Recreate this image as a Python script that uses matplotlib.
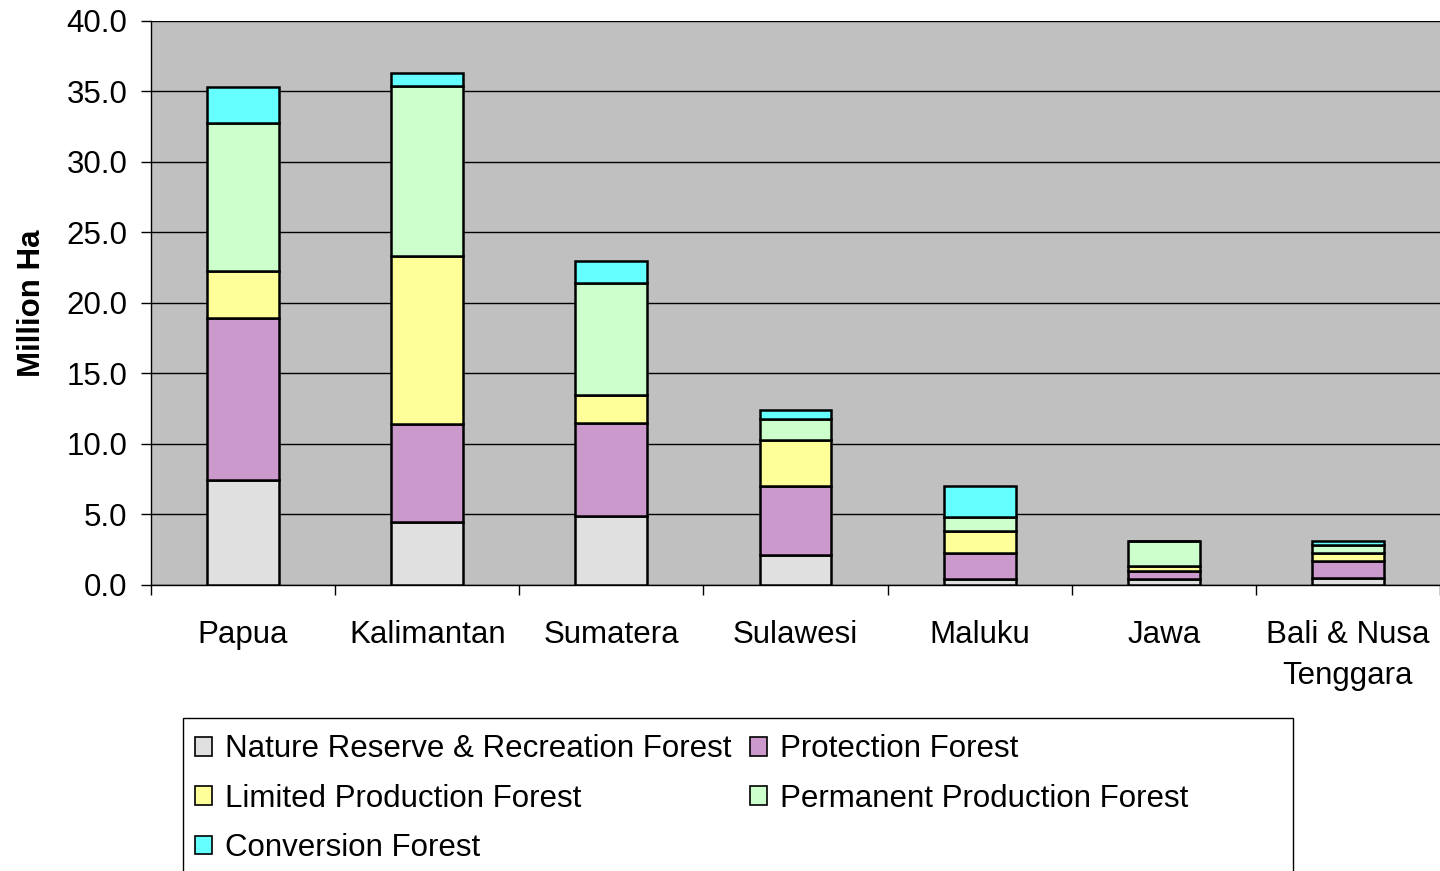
import numpy as np
import matplotlib.pyplot as plt
from matplotlib.patches import Patch, Rectangle
from matplotlib.ticker import FormatStrFormatter

plt.rcParams['font.family'] = ['Liberation Sans', 'DejaVu Sans']

regions = ['Papua', 'Kalimantan', 'Sumatera', 'Sulawesi', 'Maluku', 'Jawa',
           'Bali & Nusa\nTenggara']
series = ['Nature Reserve & Recreation Forest', 'Protection Forest',
          'Limited Production Forest', 'Permanent Production Forest',
          'Conversion Forest']

# million ha
nature = [7.45, 4.5, 4.9, 2.1, 0.4, 0.43, 0.52]
protection = [11.5, 6.9, 6.6, 4.9, 1.87, 0.56, 1.16]
limited = [3.3, 11.9, 2.0, 3.3, 1.56, 0.38, 0.57]
permanent = [10.5, 12.1, 7.9, 1.5, 1.02, 1.77, 0.59]
conversion = [2.6, 0.9, 1.6, 0.6, 2.19, 0.0, 0.28]

colors = ['#E0E0E0', '#CC99CC', '#FFFF99', '#CCFFCC', '#66FFFF']

fig = plt.figure(figsize=(14.4, 8.71), dpi=100)
ax = fig.add_axes([0.1049, 0.3284, 0.8951, 0.6475])
ax.set_facecolor('#C0C0C0')

x = np.arange(len(regions))
bottom = np.zeros(len(regions))
handles = []
for vals, name, c in zip([nature, protection, limited, permanent, conversion], series, colors):
    ax.bar(x, vals, 0.39, bottom=bottom, color=c, edgecolor='black', linewidth=1.8, zorder=3)
    bottom += np.array(vals)
    handles.append(Patch(facecolor=c, edgecolor='black', linewidth=1.2, label=name))

ax.set_xlim(-0.5, len(regions) - 0.5)
ax.set_ylim(0, 40)
ax.set_yticks(np.arange(0, 41, 5))
ax.yaxis.set_major_formatter(FormatStrFormatter('%.1f'))
ax.grid(axis='y', color='black', linewidth=1, zorder=1)
ax.set_axisbelow(True)

ax.set_xticks(x)
ax.set_xticklabels(regions, fontsize=22.5, linespacing=1.5)
ax.set_xticks(np.arange(-0.5, len(regions), 1), minor=True)
ax.tick_params(axis='x', which='major', length=0, pad=25)
ax.tick_params(axis='x', which='minor', length=7, width=1, direction='out')
ax.tick_params(axis='y', labelsize=22.5, length=7, width=1, pad=10)

for s in ['top', 'right']:
    ax.spines[s].set_visible(False)
ax.spines['left'].set_linewidth(1)
ax.spines['bottom'].set_linewidth(1)

ax.set_ylabel('Million Ha', fontsize=22.5, fontweight='bold', labelpad=14)

order = [0, 2, 4, 1, 3]
fig.legend([handles[i] for i in order], [series[i] for i in order],
           loc='upper left', bbox_to_anchor=(0.1354, 0.157), ncol=2,
           frameon=False, fontsize=22.5, borderpad=0, borderaxespad=0,
           handlelength=0.55, handleheight=0.55, handletextpad=0.4,
           labelspacing=0.62, columnspacing=0.6)
fig.patches.append(Rectangle((0.1271, -0.02), 0.7708, 0.1957, transform=fig.transFigure,
                             fill=False, edgecolor='black', linewidth=1))

fig.savefig('out.png', dpi=100)
